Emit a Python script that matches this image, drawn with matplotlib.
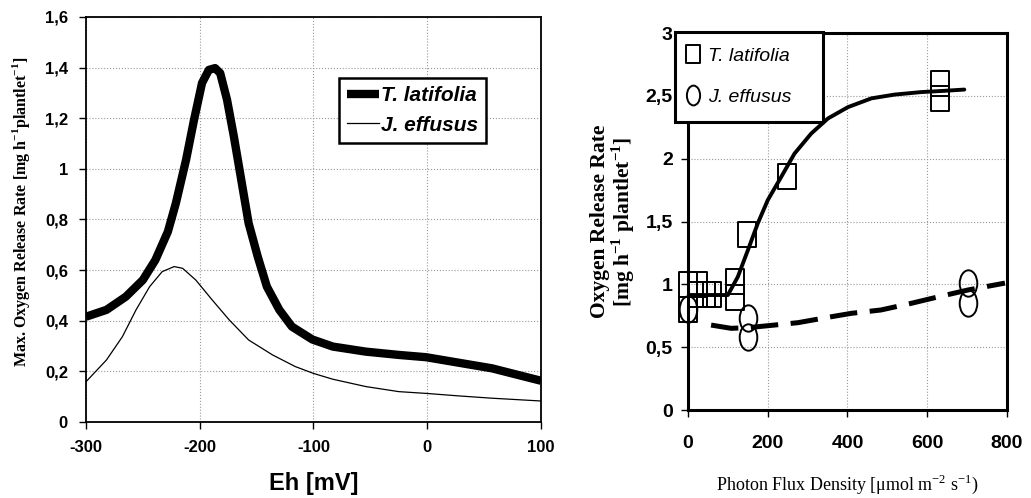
import matplotlib.pyplot as plt
from matplotlib.path import Path
from matplotlib.transforms import Affine2D
import numpy as np

plt.rcParams['axes.unicode_minus'] = False

# ---------------------------------------------------------------- data
# left panel: O2 release vs. redox potential
eh_t = [-300, -282, -265, -250, -239, -228, -221, -212, -205, -198, -192, -186.5,
        -182, -176, -170, -164, -157, -149, -141, -130, -119, -112, -101, -83, -54,
        -25, -1, 28, 57, 78, 100]
eh_latifolia = [0.416, 0.443, 0.495, 0.561, 0.64, 0.752, 0.864, 1.036, 1.194, 1.339,
                1.391, 1.398, 1.378, 1.273, 1.128, 0.97, 0.785, 0.653, 0.535, 0.443,
                0.377, 0.357, 0.326, 0.298, 0.278, 0.265, 0.256, 0.234, 0.212, 0.188, 0.163]

eh_j = [-300, -282, -268, -256, -244, -233, -222.5, -215, -203.5, -189, -174, -157,
        -136, -116, -100, -83, -54, -25, -1, 28, 57, 100]
eh_effusus = [0.159, 0.245, 0.337, 0.443, 0.535, 0.594, 0.614, 0.607, 0.561, 0.482,
              0.403, 0.324, 0.265, 0.219, 0.192, 0.169, 0.140, 0.120, 0.113, 0.103,
              0.094, 0.083]

# right panel: O2 release vs. photon flux density
pfd_lat = [0, 0, 25, 25, 45, 60, 117, 117, 149, 248, 631, 631]
orr_lat = [1.0, 0.8, 1.0, 0.92, 0.92, 0.92, 1.03, 0.90, 1.40, 1.86, 2.60, 2.48]
pfd_eff = [0, 150, 150, 702, 702]
orr_eff = [0.80, 0.73, 0.58, 1.01, 0.85]

fit_lat_x = [0, 50, 100, 125, 150, 175, 200, 234, 267, 309, 351, 401, 460, 518, 585, 643, 693]
fit_lat_y = [0.915, 0.915, 0.915, 1.06, 1.27, 1.485, 1.67, 1.856, 2.04, 2.20, 2.32, 2.41,
             2.48, 2.51, 2.53, 2.54, 2.55]
fit_eff_x = [58, 108, 150, 217, 276, 359, 409, 484, 560, 627, 702, 795]
fit_eff_y = [0.676, 0.65, 0.655, 0.676, 0.695, 0.742, 0.769, 0.796, 0.849, 0.90, 0.955, 1.01]

# ---------------------------------------------------------------- style
sans = ['Liberation Sans', 'DejaVu Sans']
serif = ['Liberation Serif', 'DejaVu Serif']

# tall markers (the original figure is stretched vertically)
circ = Path.unit_circle().transformed(Affine2D().scale(1, 1.5))
sq = Path([(-1, -1), (1, -1), (1, 1), (-1, 1), (-1, -1)],
          [Path.MOVETO, Path.LINETO, Path.LINETO, Path.LINETO, Path.CLOSEPOLY])
sq = sq.transformed(Affine2D().scale(1, 1.4))

fig = plt.figure(figsize=(10.31, 4.98), dpi=100)

# ================================================================ left panel
ax1 = fig.add_axes([0.0834, 0.1526, 0.4413, 0.8133])
ax1.plot(eh_t, eh_latifolia, color='black', lw=6, solid_capstyle='butt',
         solid_joinstyle='round', label='T. latifolia')
ax1.plot(eh_j, eh_effusus, color='black', lw=0.9, label='J. effusus')
ax1.set_xlim(-300, 100)
ax1.set_ylim(0, 1.6)
ax1.set_xticks([-300, -200, -100, 0, 100])
ax1.set_yticks(np.arange(0, 1.61, 0.2))
ax1.set_yticklabels(['0', '0,2', '0,4', '0,6', '0,8', '1', '1,2', '1,4', '1,6'])
ax1.grid(True, color='#999999', linestyle=':', linewidth=0.8)
for sp in ax1.spines.values():
    sp.set_linewidth(1.3)
ax1.tick_params(direction='out', length=5, width=1, pad=8)
for t in ax1.get_xticklabels() + ax1.get_yticklabels():
    t.set_family(sans)
    t.set_fontweight('bold')
    t.set_fontsize(12)
ax1.set_xlabel('Eh [mV]', family=sans, fontweight='bold', fontsize=17, labelpad=12)
ax1.set_ylabel('Max. Oxygen Release Rate [mg h$^{\\mathregular{-1}}$plantlet$^{\\mathregular{-1}}$]',
               family=serif, fontweight='bold', fontsize=11.5)
ax1.yaxis.set_label_coords(-0.118, 0.52)
leg1 = ax1.legend(loc='upper left', bbox_to_anchor=(0.3288, 0.8434),
                  bbox_transform=fig.transFigure, borderaxespad=0, frameon=True,
                  fancybox=False, edgecolor='black', framealpha=1, handlelength=1.5,
                  handletextpad=0.1, borderpad=0.4, labelspacing=0.5,
                  prop={'family': sans, 'weight': 'bold', 'style': 'italic', 'size': 15})
leg1.get_frame().set_linewidth(1.8)

# ================================================================ right panel
ax2 = fig.add_axes([0.6673, 0.1767, 0.3094, 0.757])
ax2.plot(fit_lat_x, fit_lat_y, color='black', lw=2.8, solid_capstyle='round')
ax2.plot(fit_eff_x, fit_eff_y, color='black', lw=3.6, dashes=(5.5, 2.5))
ax2.plot(pfd_lat, orr_lat, linestyle='none', marker=sq, markersize=18,
         markerfacecolor='none', markeredgecolor='black', markeredgewidth=1.4,
         clip_on=False, label='T. latifolia')
ax2.plot(pfd_eff, orr_eff, linestyle='none', marker=circ, markersize=19,
         markerfacecolor='none', markeredgecolor='black', markeredgewidth=1.4,
         clip_on=False, label='J. effusus')
ax2.set_xlim(0, 800)
ax2.set_ylim(0, 3)
ax2.set_xticks([0, 200, 400, 600, 800])
ax2.set_yticks([0, 0.5, 1, 1.5, 2, 2.5, 3])
ax2.set_yticklabels(['0', '0,5', '1', '1,5', '2', '2,5', '3'])
ax2.grid(True, color='#999999', linestyle=':', linewidth=0.8)
for sp in ax2.spines.values():
    sp.set_linewidth(2.2)
ax2.tick_params(direction='out', length=5, width=1, pad=6)
ax2.tick_params(axis='x', pad=13)
for t in ax2.get_xticklabels() + ax2.get_yticklabels():
    t.set_family(sans)
    t.set_fontweight('bold')
    t.set_fontsize(14)
ax2.set_xlabel('Photon Flux Density [$\\mathregular{\\mu}$mol m$^{\\mathregular{-2}}$ s$^{\\mathregular{-1}}$)',
               family=serif, fontsize=13, labelpad=15)
ax2.set_ylabel('Oxygen Release Rate\n[mg h$^{\\mathregular{-1}}$ plantlet$^{\\mathregular{-1}}$]',
               family=serif, fontweight='bold', fontsize=15.5, labelpad=6, linespacing=1.0)
leg2 = ax2.legend(loc='upper left', bbox_to_anchor=(0.6547, 0.7530, 0.1435, 0.1827),
                  bbox_transform=fig.transFigure, mode='expand', borderaxespad=0,
                  frameon=True, fancybox=False, edgecolor='black', framealpha=1,
                  handlelength=0.3, handletextpad=0.6, borderpad=0.8, labelspacing=1.2,
                  markerscale=0.75,
                  prop={'family': sans, 'style': 'italic', 'size': 14})
leg2.get_frame().set_linewidth(2.2)

fig.savefig('out.png', dpi=100)
